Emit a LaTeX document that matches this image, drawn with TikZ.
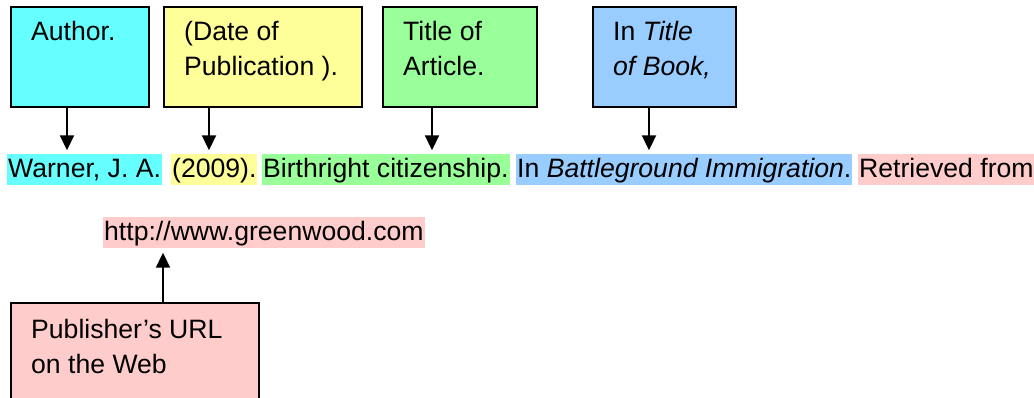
\documentclass[tikz,border=0pt]{standalone}
\usepackage{fontspec}
\setmainfont{Liberation Sans}
\usetikzlibrary{arrows.meta}
\definecolor{cyanbox}{HTML}{66FFFF}
\definecolor{yelbox}{HTML}{FFFF99}
\definecolor{grnbox}{HTML}{99FF99}
\definecolor{blubox}{HTML}{99CCFF}
\definecolor{pnkbox}{HTML}{FFCCCC}
\begin{document}
\begin{tikzpicture}[x=1pt,y=-1pt,
  every node/.style={font=\fontsize{26.6pt}{35pt}\selectfont},
  labelbox/.style={draw=black, line width=1.8pt, inner sep=0pt, anchor=north west},
  boxtext/.style={anchor=base west, inner sep=0pt, align=left},
  hl/.style={anchor=base west, inner xsep=1pt, inner ysep=0pt, text height=23.5pt, text depth=7.5pt},
  arr/.style={line width=2pt, -{Triangle[width=14pt,length=15pt]}, shorten >=4pt}]
\useasboundingbox (0,0) rectangle (1034,398);
\clip (0,0) rectangle (1034,398);
% boxes
\node[labelbox, fill=cyanbox, minimum width=138pt, minimum height=100pt] (author) at (10,6) {};
\node[labelbox, fill=yelbox, minimum width=198pt, minimum height=100pt] (date) at (163,6) {};
\node[labelbox, fill=grnbox, minimum width=154pt, minimum height=100pt] (title) at (382,6) {};
\node[labelbox, fill=blubox, minimum width=143pt, minimum height=100pt] (book) at (592,6) {};
\node[labelbox, fill=pnkbox, minimum width=248pt, minimum height=120pt] (pub) at (10,302) {};
% box texts (multi-line nodes are placed by their last baseline)
\node[boxtext] (authort) at (31,41) {Author.};
\node[boxtext] (datet) at (184,76) {(Date of\\Publication ).};
\node[boxtext] (titlet) at (403,76) {Title of\\Article.};
\node[boxtext] (bookt) at (613,76) {In \textit{Title}\\\textit{of Book,}};
\node[boxtext] (pubt) at (31,373) {Publisher’s URL\\on the Web};
% reference line
\node[hl, fill=cyanbox] (warner) at (7,178) {Warner, J. A.};
\node[hl, fill=yelbox] (year) at (171,178) {(2009).};
\node[hl, fill=grnbox] (art) at (262,178) {Birthright citizenship.};
\node[hl, fill=blubox] (bk) at (516,178) {In \textit{Battleground Immigration}.};
\node[hl, fill=pnkbox] (ret) at (858,178) {Retrieved from};
\node[hl, fill=pnkbox] (url) at (103,241) {http://www.greenwood.com};
% arrow x positions
\coordinate (a1) at (67,0);
\coordinate (a2) at (209,0);
\coordinate (a3) at (432,0);
\coordinate (a4) at (649,0);
\coordinate (a5) at (163,0);
\draw[arr] (author.south -| a1) -- (warner.north -| a1);
\draw[arr] (date.south -| a2) -- (year.north -| a2);
\draw[arr] (title.south -| a3) -- (art.north -| a3);
\draw[arr] (book.south -| a4) -- (bk.north -| a4);
\draw[arr] (pub.north -| a5) -- (url.south -| a5);
\end{tikzpicture}
\end{document}
